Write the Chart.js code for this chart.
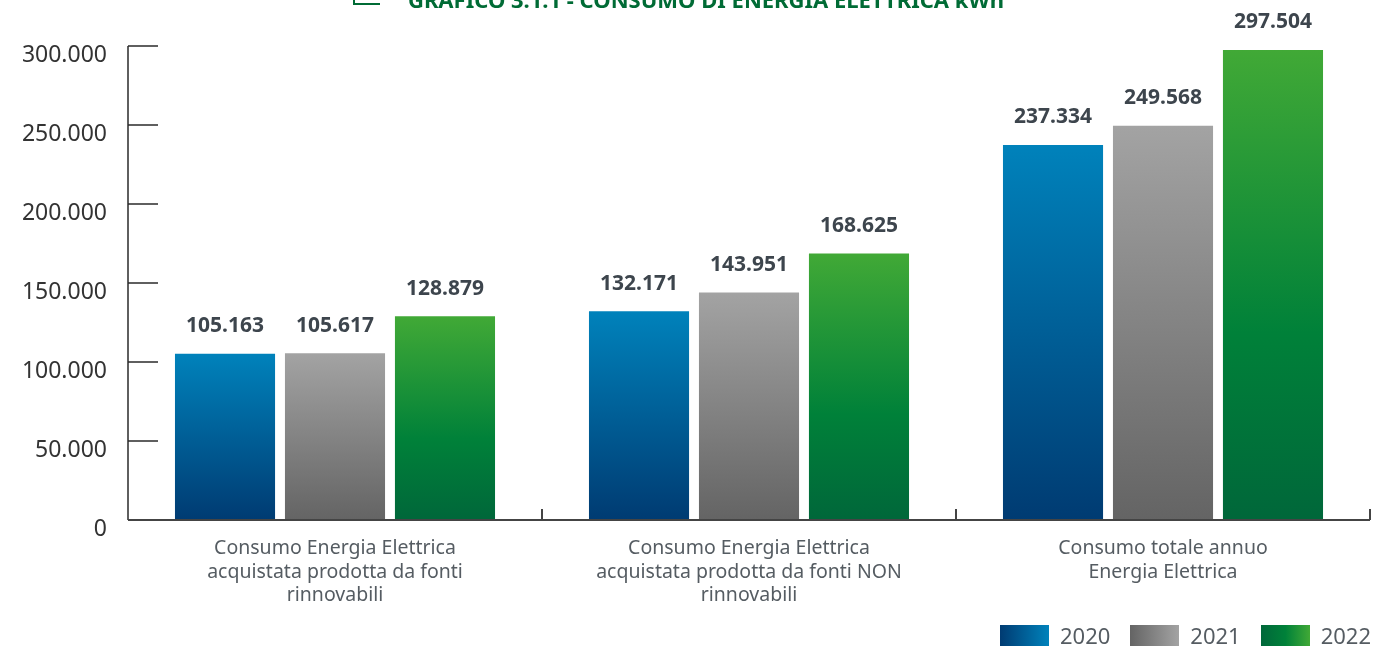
<!DOCTYPE html>
<html lang="it">
<head>
  <meta charset="UTF-8">
  <title>Grafico 3.1.1 - Consumo di energia elettrica kWh</title>
  <script src="https://cdn.jsdelivr.net/npm/chart.js"></script>
  <style>
    body {
      margin: 0;
      background: #fff;
      font-family: "Noto Sans", Arial, sans-serif;
    }
    .wrap {
      position: relative;
      width: 1376px;
      height: 648px;
      overflow: hidden;
    }
    .title {
      position: absolute;
      left: 0;
      width: 1412px;
      top: -16px;
      text-align: center;
      font-weight: bold;
      font-size: 22px;
      color: #006b35;
      white-space: nowrap;
    }
    .title-icon {
      position: absolute;
      left: 353px;
      top: -10px;
      width: 25px;
      height: 13px;
      border-left: 2px solid #006b35;
      border-bottom: 2px solid #006b35;
    }
    .legend {
      position: absolute;
      left: 1000px;
      top: 620px;
      display: flex;
      align-items: center;
      font-size: 22px;
      color: #555c62;
    }
    .legend span.box {
      display: inline-block;
      width: 49px;
      height: 21px;
      margin-right: 11px;
    }
    .legend .item {
      display: flex;
      align-items: center;
      margin-right: 20px;
    }
  </style>
</head>
<body>

<div class="wrap">
  <canvas id="barChart"></canvas>
  <div class="title-icon"></div>
  <div class="title">GRAFICO 3.1.1 - CONSUMO DI ENERGIA ELETTRICA kWh</div>
  <div class="legend" id="legend"></div>
</div>

<script>
const categories = [
  ["Consumo Energia Elettrica", "acquistata prodotta da fonti", "rinnovabili"],
  ["Consumo Energia Elettrica", "acquistata prodotta da fonti NON", "rinnovabili"],
  ["Consumo totale annuo", "Energia Elettrica"]
];
const years = ["2020", "2021", "2022"];
const values2020 = [105163, 132171, 237334];
const values2021 = [105617, 143951, 249568];
const values2022 = [128879, 168625, 297504];
const yTicks = [0, 50000, 100000, 150000, 200000, 250000, 300000];

// colori sfumati (dall'alto verso il basso)
const blueStops = [[0, "#0082bb"], [1, "#003b72"]];
const greyStops = [[0, "#a3a3a3"], [1, "#646464"]];
const greenStops = [[0, "#41a936"], [0.6, "#008139"], [1, "#00673a"]];

function formatIt(v) {
    return String(v).replace(/\B(?=(\d{3})+(?!\d))/g, ".");
}

function barGradient(stops) {
    return function(context) {
        const chart = context.chart;
        if (!chart.chartArea || context.type !== 'data') return stops[0][1];
        const y = chart.scales.y;
        const top = y.getPixelForValue(context.raw);
        const bottom = y.getPixelForValue(0);
        const g = chart.ctx.createLinearGradient(0, top, 0, bottom);
        stops.forEach(s => g.addColorStop(s[0], s[1]));
        return g;
    };
}

// legenda html
const legendDiv = document.getElementById('legend');
[blueStops, greyStops, greenStops].forEach((stops, i) => {
    const item = document.createElement('div');
    item.className = 'item';
    const colors = stops.slice().reverse().map(s => s[1]).join(', ');
    item.innerHTML = `<span class="box" style="background: linear-gradient(to right, ${colors});"></span>${years[i]}`;
    legendDiv.appendChild(item);
});

const axisPlugin = {
    id: 'axisLines',
    afterDraw(chart) {
        const c = chart.ctx;
        const area = chart.chartArea;
        const y = chart.scales.y;
        const x = chart.scales.x;
        c.save();
        c.strokeStyle = "#2b2b2b";
        c.lineWidth = 1.5;
        c.beginPath();
        c.moveTo(area.left, y.getPixelForValue(300000));
        c.lineTo(area.left, area.bottom);
        yTicks.forEach(t => {
            const py = y.getPixelForValue(t);
            c.moveTo(area.left, py);
            c.lineTo(area.left + 30, py);
        });
        c.stroke();

        c.strokeStyle = "#444";
        c.lineWidth = 2;
        c.beginPath();
        c.moveTo(area.left, area.bottom);
        c.lineTo(area.right, area.bottom);
        const half = (x.getPixelForValue(1) - x.getPixelForValue(0)) / 2;
        for (let i = 0; i < categories.length; i++) {
            const px = x.getPixelForValue(i) + half;
            c.moveTo(px, area.bottom);
            c.lineTo(px, area.bottom - 11);
        }
        c.stroke();
        c.restore();
    }
};

const valueLabels = {
    id: 'valueLabels',
    afterDatasetsDraw(chart) {
        const c = chart.ctx;
        c.save();
        c.font = "bold 21px 'Noto Sans', Arial, sans-serif";
        c.fillStyle = "#3d454d";
        c.textAlign = "center";
        c.textBaseline = "bottom";
        chart.data.datasets.forEach((ds, di) => {
            chart.getDatasetMeta(di).data.forEach((bar, i) => {
                c.fillText(formatIt(ds.data[i]), bar.x, bar.y - 17);
            });
        });
        c.restore();
    }
};

const ctx = document.getElementById('barChart').getContext('2d');
new Chart(ctx, {
    type: 'bar',
    data: {
        labels: categories,
        datasets: [
            { label: years[0], data: values2020, backgroundColor: barGradient(blueStops) },
            { label: years[1], data: values2021, backgroundColor: barGradient(greyStops) },
            { label: years[2], data: values2022, backgroundColor: barGradient(greenStops) }
        ]
    },
    options: {
        responsive: true,
        maintainAspectRatio: false,
        animation: false,
        layout: { padding: { top: 46, right: 6, left: 0, bottom: 0 } },
        datasets: {
            bar: { categoryPercentage: 0.797, barPercentage: 0.91 }
        },
        plugins: {
            legend: { display: false },
            tooltip: { enabled: false }
        },
        scales: {
            x: {
                grid: { display: false, drawTicks: false },
                border: { display: false },
                ticks: {
                    color: "#555c62",
                    padding: 17,
                    font: { family: "'Noto Sans', Arial, sans-serif", size: 19.5, lineHeight: 1.2 },
                    maxRotation: 0,
                    autoSkip: false
                },
                afterFit(scale) { scale.height = 128; }
            },
            y: {
                min: 0,
                max: 300000,
                grid: { display: false, drawTicks: false },
                border: { display: false },
                afterBuildTicks(scale) { scale.ticks = yTicks.map(v => ({ value: v })); },
                ticks: {
                    color: "#333",
                    padding: 21,
                    labelOffset: 9,
                    font: { family: "'Noto Sans', Arial, sans-serif", size: 23 },
                    callback: v => formatIt(v)
                },
                afterFit(scale) { scale.width = 128; }
            }
        }
    },
    plugins: [axisPlugin, valueLabels]
});
</script>

</body>
</html>
